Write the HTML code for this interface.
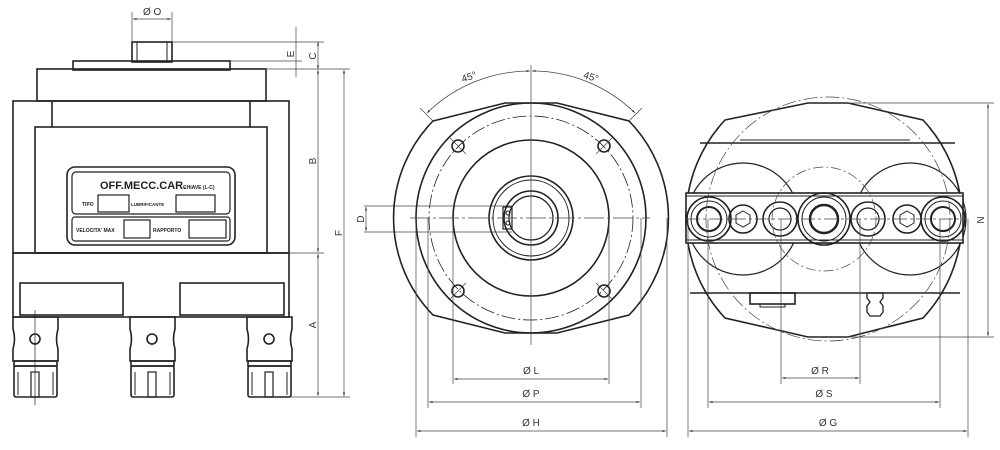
<!DOCTYPE html>
<html><head><meta charset="utf-8"><style>
html,body{margin:0;padding:0;background:#fff;}
svg{display:block;}
text{font-family:"Liberation Sans",sans-serif;fill:#333;}
</style></head><body>
<svg width="1000" height="450" viewBox="0 0 1000 450" xmlns="http://www.w3.org/2000/svg">
<defs>
<marker id="a" viewBox="0 0 10 10" refX="10" refY="5" markerWidth="5" markerHeight="5" orient="auto-start-reverse"><path d="M0,2 L10,5 L0,8 z" fill="#333"/></marker>
</defs>
<g fill="none" stroke="#222" stroke-width="1.6">
<!-- LEFT VIEW -->
<rect x="132" y="42" width="40" height="20"/>
<line x1="137" y1="42" x2="137" y2="62" stroke-width="1"/><line x1="167" y1="42" x2="167" y2="62" stroke-width="1"/>
<rect x="73" y="61" width="157" height="9"/>
<rect x="37" y="69" width="229" height="32"/>
<rect x="13" y="101" width="276" height="152"/>
<line x1="52" y1="101" x2="52" y2="127"/><line x1="250" y1="101" x2="250" y2="127"/>
<rect x="35" y="127" width="232" height="126"/>
<rect x="67" y="167" width="168" height="78" rx="8"/>
<rect x="72" y="172" width="158" height="42" rx="4" stroke-width="1.2"/>
<rect x="72" y="217" width="158" height="24" rx="3" stroke-width="1.2"/>
<rect x="98" y="195" width="31" height="17" stroke-width="1.2"/>
<rect x="176" y="195" width="39" height="17" stroke-width="1.2"/>
<rect x="124" y="220" width="26" height="18" stroke-width="1.2"/>
<rect x="189" y="220" width="37" height="18" stroke-width="1.2"/>
<rect x="13" y="253" width="276" height="64"/>
<rect x="20" y="283" width="103" height="32"/>
<rect x="180" y="283" width="104" height="32"/>
<g id="col">
<path d="M13,317 h45 v12 q-3,10 0,20 v12 h-45 v-12 q3,-10 0,-20 z"/>
<circle cx="35" cy="339" r="5"/>
<rect x="14" y="361" width="43" height="5"/>
<rect x="14" y="366" width="43" height="31" rx="2"/>
<rect x="31" y="372" width="8" height="25" stroke-width="1.2"/>
<line x1="18" y1="372" x2="18" y2="395" stroke-width="1"/><line x1="53" y1="372" x2="53" y2="395" stroke-width="1"/>
</g>
<use href="#col" x="117"/>
<use href="#col" x="234"/>
<line x1="35" y1="310" x2="35" y2="405" stroke-width="0.7"/>
</g>
<g font-size="9.5" font-weight="bold" fill="#222">
<text x="100" y="189" font-size="11" style="fill:#222">OFF.MECC.CAR.</text>
<text x="183" y="189" font-size="5" style="fill:#222">CHIAVE (L-C)</text>
<text x="82" y="206" font-size="5" style="fill:#222">TIPO</text>
<text x="131" y="206" font-size="4.5" style="fill:#222">LUBRIFICANTE</text>
<text x="76" y="232" font-size="5" style="fill:#222">VELOCITA' MAX</text>
<text x="153" y="232" font-size="5" style="fill:#222">RAPPORTO</text>
</g>
<!-- left dims -->
<g stroke="#444" stroke-width="0.7" fill="none">
<line x1="132" y1="12" x2="132" y2="42"/><line x1="172" y1="12" x2="172" y2="42"/>
<line x1="133" y1="19" x2="171" y2="19" marker-start="url(#a)" marker-end="url(#a)"/>
<line x1="172" y1="42" x2="324" y2="42"/>
<line x1="230" y1="61" x2="302" y2="61"/>
<line x1="266" y1="69" x2="350" y2="69"/>
<line x1="289" y1="253" x2="324" y2="253"/>
<line x1="290" y1="397" x2="350" y2="397"/>
<line x1="296" y1="27" x2="296" y2="77"/>
<line x1="318" y1="42" x2="318" y2="69" marker-start="url(#a)" marker-end="url(#a)"/>
<line x1="318" y1="70" x2="318" y2="252" marker-start="url(#a)" marker-end="url(#a)"/>
<line x1="318" y1="254" x2="318" y2="396" marker-start="url(#a)" marker-end="url(#a)"/>
<line x1="344" y1="70" x2="344" y2="396" marker-start="url(#a)" marker-end="url(#a)"/>
<line x1="364" y1="206" x2="512" y2="206"/><line x1="364" y1="232" x2="512" y2="232"/>
<line x1="366" y1="207" x2="366" y2="231" marker-start="url(#a)" marker-end="url(#a)"/>
</g>
<g font-size="10">
<text x="143" y="15">Ø O</text>
<text x="294" y="54" transform="rotate(-90 294 54)" text-anchor="middle">E</text>
<text x="316" y="56" transform="rotate(-90 316 56)" text-anchor="middle">C</text>
<text x="316" y="161" transform="rotate(-90 316 161)" text-anchor="middle">B</text>
<text x="316" y="325" transform="rotate(-90 316 325)" text-anchor="middle">A</text>
<text x="342" y="233" transform="rotate(-90 342 233)" text-anchor="middle">F</text>
<text x="364" y="219" transform="rotate(-90 364 219)" text-anchor="middle">D</text>
</g>
<!-- MIDDLE VIEW -->
<g fill="none" stroke="#222" stroke-width="1.6">
<path d="M433,121 L505,103 L557,103 L629,121 A139,139 0 0 1 629,315 L557,333 L505,333 L433,315 A139,139 0 0 1 433,121 z"/>
<circle cx="531" cy="218" r="115"/>
<circle cx="531" cy="218" r="78"/>
<circle cx="531" cy="218" r="102" stroke-width="0.8" stroke-dasharray="14,3,2,3"/>
<circle cx="458" cy="146" r="6"/><circle cx="604" cy="146" r="6"/>
<circle cx="458" cy="291" r="6"/><circle cx="604" cy="291" r="6"/>
<circle cx="531" cy="218" r="42"/>
<circle cx="531" cy="218" r="38" stroke-width="1"/>
<circle cx="531" cy="218" r="27"/>
<circle cx="531" cy="218" r="22" stroke-width="1.2"/>
<rect x="503" y="207" width="9" height="22" stroke-width="1.2"/>
<circle cx="508" cy="213" r="2" stroke-width="1"/><circle cx="508" cy="223" r="2" stroke-width="1"/>
</g>
<g stroke="#444" stroke-width="0.7" fill="none">
<line x1="531" y1="65" x2="531" y2="345"/>
<line x1="410" y1="218" x2="650" y2="218" stroke-dasharray="20,3,3,3"/>
<line x1="433" y1="121" x2="420" y2="108"/><line x1="629" y1="121" x2="642" y2="108"/>
<line x1="450" y1="138" x2="466" y2="154"/><line x1="612" y1="138" x2="596" y2="154"/>
<line x1="450" y1="299" x2="466" y2="283"/><line x1="612" y1="299" x2="596" y2="283"/>
<path d="M427,113 A147,147 0 0 1 530,71" marker-start="url(#a)" marker-end="url(#a)"/>
<path d="M532,71 A147,147 0 0 1 635,113" marker-start="url(#a)" marker-end="url(#a)"/>
<line x1="453" y1="218" x2="453" y2="384"/><line x1="609" y1="218" x2="609" y2="384"/>
<line x1="428" y1="218" x2="428" y2="408"/><line x1="641" y1="218" x2="641" y2="408"/>
<line x1="416" y1="218" x2="416" y2="437"/><line x1="667" y1="218" x2="667" y2="437"/>
<line x1="454" y1="379" x2="608" y2="379" marker-start="url(#a)" marker-end="url(#a)"/>
<line x1="429" y1="402" x2="640" y2="402" marker-start="url(#a)" marker-end="url(#a)"/>
<line x1="417" y1="431" x2="666" y2="431" marker-start="url(#a)" marker-end="url(#a)"/>
</g>
<g font-size="10" text-anchor="middle">
<text x="470" y="80" transform="rotate(-18 470 80)">45°</text>
<text x="590" y="80" transform="rotate(18 590 80)">45°</text>
<text x="531" y="374">Ø L</text>
<text x="531" y="397">Ø P</text>
<text x="531" y="426">Ø H</text>
</g>
<!-- RIGHT VIEW -->
<g fill="none" stroke="#222" stroke-width="1.6">
<path d="M725,120 L808,103 L848,103 L923,120 A145,145 0 0 1 923,318 L848,337 L808,337 L725,318 A145,145 0 0 1 725,120 z"/>
<line x1="700" y1="143" x2="955" y2="143"/>
<line x1="740" y1="140" x2="910" y2="140" stroke-width="1"/>
<line x1="690" y1="293" x2="960" y2="293"/>
<circle cx="743" cy="219" r="56" stroke-width="1.2"/>
<circle cx="910" cy="219" r="56" stroke-width="1.2"/>
<rect x="686" y="193" width="277" height="50" fill="#fff"/>
<line x1="686" y1="196" x2="963" y2="196" stroke-width="1"/>
<line x1="686" y1="240" x2="963" y2="240" stroke-width="1"/>
<circle cx="709" cy="219" r="22"/><circle cx="709" cy="219" r="18" stroke-width="1"/><circle cx="709" cy="219" r="12" stroke-width="2"/>
<circle cx="743" cy="219" r="14"/><polygon points="743,211 750,215 750,223 743,227 736,223 736,215" stroke-width="1"/>
<circle cx="780" cy="219" r="17"/><circle cx="780" cy="219" r="11" stroke-width="1.2"/>
<circle cx="824" cy="219" r="26"/><circle cx="824" cy="219" r="22" stroke-width="1"/><circle cx="824" cy="219" r="14" stroke-width="2.5"/>
<circle cx="868" cy="219" r="17"/><circle cx="868" cy="219" r="11" stroke-width="1.2"/>
<circle cx="907" cy="219" r="14"/><polygon points="907,211 914,215 914,223 907,227 900,223 900,215" stroke-width="1"/>
<circle cx="943" cy="219" r="22"/><circle cx="943" cy="219" r="18" stroke-width="1"/><circle cx="943" cy="219" r="12" stroke-width="2"/>
<rect x="750" y="293" width="45" height="11"/>
<rect x="760" y="304" width="25" height="3" stroke-width="1"/>
<path d="M867,293 h16 v5 l-3,4 l3,4 v6 l-3,4 h-10 l-3,-4 v-6 l3,-4 l-3,-4 z" stroke-width="1.3"/>
</g>
<g stroke="#444" stroke-width="0.7" fill="none">
<circle cx="828" cy="219" r="122" stroke-dasharray="14,3,2,3"/>
<circle cx="824" cy="219" r="52" stroke-dasharray="10,3,2,3"/>
<line x1="686" y1="219" x2="963" y2="219" stroke-dasharray="14,3,3,3"/>
<line x1="848" y1="103" x2="994" y2="103"/><line x1="848" y1="337" x2="994" y2="337"/>
<line x1="988" y1="104" x2="988" y2="336" marker-start="url(#a)" marker-end="url(#a)"/>
<line x1="781" y1="219" x2="781" y2="384"/><line x1="860" y1="219" x2="860" y2="384"/>
<line x1="708" y1="219" x2="708" y2="408"/><line x1="940" y1="219" x2="940" y2="408"/>
<line x1="688" y1="219" x2="688" y2="437"/><line x1="968" y1="219" x2="968" y2="437"/>
<line x1="782" y1="378" x2="859" y2="378" marker-start="url(#a)" marker-end="url(#a)"/>
<line x1="709" y1="402" x2="939" y2="402" marker-start="url(#a)" marker-end="url(#a)"/>
<line x1="689" y1="431" x2="967" y2="431" marker-start="url(#a)" marker-end="url(#a)"/>
</g>
<g font-size="10" text-anchor="middle">
<text x="984" y="220" transform="rotate(-90 984 220)">N</text>
<text x="820" y="374">Ø R</text>
<text x="824" y="397">Ø S</text>
<text x="828" y="426">Ø G</text>
</g>
</svg>
</body></html>
